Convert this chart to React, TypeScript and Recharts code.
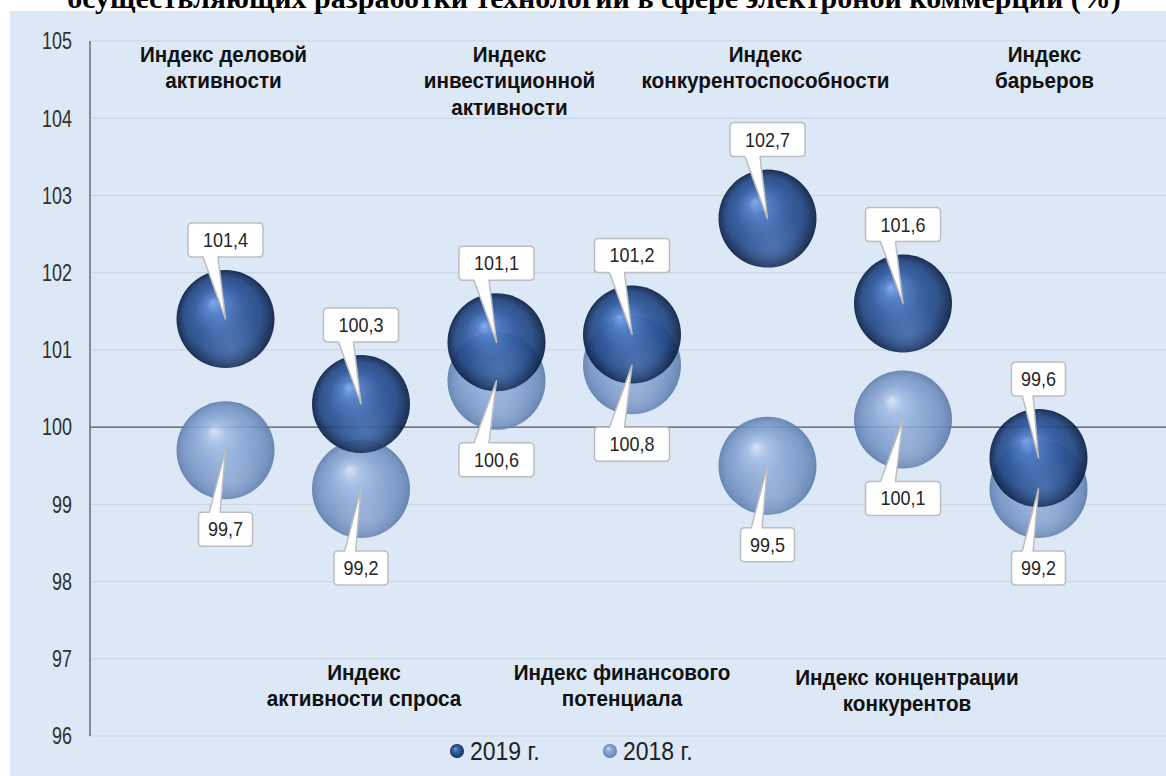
import React from 'react';
import { ScatterChart, Scatter, XAxis, YAxis, CartesianGrid, ReferenceLine, Legend } from 'recharts';

// Index labels, split into the lines they are printed on
const categoryLines: string[][] = [
  ['Индекс деловой', 'активности'],
  ['Индекс', 'активности спроса'],
  ['Индекс', 'инвестиционной', 'активности'],
  ['Индекс финансового', 'потенциала'],
  ['Индекс', 'конкурентоспособности'],
  ['Индекс концентрации', 'конкурентов'],
  ['Индекс', 'барьеров'],
];
const values2019 = [101.4, 100.3, 101.1, 101.2, 102.7, 101.6, 99.6];
const values2018 = [99.7, 99.2, 100.6, 100.8, 99.5, 100.1, 99.2];
const yTicks = [96, 97, 98, 99, 100, 101, 102, 103, 104, 105];
const xTicks = [1, 2, 3, 4, 5, 6, 7, 8];
const seriesNames = ['2019 г.', '2018 г.'];
const titleText = 'осуществляющих разработки технологии в сфере электроной коммерции (%)';

// small nudges for the printed index captions (px)
const CAPTION_SHIFT = [
  { dx: -2, dy: 0 },
  { dx: 3, dy: 0 },
  { dx: 13, dy: 0 },
  { dx: -10, dy: 0 },
  { dx: -2, dy: 0 },
  { dx: 4, dy: 5 },
  { dx: 6, dy: 0 },
];

// narrow look: regular sans squeezed horizontally
const SANS = "'Liberation Sans', Arial, sans-serif";
const SPHERE_R = 49;

const points2019 = values2019.map((v, i) => ({ x: i + 1, y: v }));
const points2018 = values2018.map((v, i) => ({ x: i + 1, y: v }));
const captionPoints = categoryLines.map((lines, i) => ({
  x: i + 1,
  y: i % 2 === 0 ? 105 : 96,
  lines,
  top: i % 2 === 0,
  idx: i,
}));

const fmt = (v: number) => v.toFixed(1).replace('.', ',');

function Sphere(props: any) {
  const { cx, cy, kind } = props;
  if (cx == null || cy == null) return null;
  const dark = kind === '2019';
  return (
    <g opacity={dark ? 0.93 : 0.88}>
      <circle cx={cx} cy={cy} r={SPHERE_R} fill={dark ? 'url(#sph2019)' : 'url(#sph2018)'} />
      <circle cx={cx} cy={cy} r={SPHERE_R} fill={dark ? 'url(#glow2019)' : 'url(#glow2018)'} />
    </g>
  );
}

function Callout(props: any) {
  const { cx, cy, payload, below } = props;
  if (cx == null || cy == null) return null;
  const label = fmt(payload.y);
  const w = 21 * label.length - 30;
  const h = 34;
  const gap = 62;
  const r = 4;
  const L = cx - w / 2;
  const R = cx + w / 2;
  const T = below ? cy + gap : cy - gap - h;
  const B = T + h;
  const x1 = cx - 0.3 * w;
  const x2 = cx - 0.1 * w;
  const d = below
    ? `M${L + r},${T} H${x1} L${cx},${cy} L${x2},${T} H${R - r} Q${R},${T} ${R},${T + r} V${B - r} Q${R},${B} ${R - r},${B} H${L + r} Q${L},${B} ${L},${B - r} V${T + r} Q${L},${T} ${L + r},${T} Z`
    : `M${L + r},${T} H${R - r} Q${R},${T} ${R},${T + r} V${B - r} Q${R},${B} ${R - r},${B} H${x2} L${cx},${cy} L${x1},${B} H${L + r} Q${L},${B} ${L},${B - r} V${T + r} Q${L},${T} ${L + r},${T} Z`;
  return (
    <g>
      <path d={d} fill="#ffffff" stroke="#bdbdbd" strokeWidth={1.5} strokeLinejoin="round" />
      <text
        transform={`translate(${cx},${T + h / 2 + 7}) scale(0.9,1)`}
        textAnchor="middle"
        fontFamily={SANS}
        fontSize={20}
        fill="#262626"
      >
        {label}
      </text>
    </g>
  );
}

function Caption(props: any) {
  const { cx, cy, payload } = props;
  if (cx == null || cy == null) return null;
  const shift = CAPTION_SHIFT[payload.idx];
  const lineH = 26.5;
  const x = cx + shift.dx;
  const first = payload.top ? cy + 21 : cy - 56;
  return (
    <g transform={`translate(${x},${first + shift.dy}) scale(0.94,1)`}>
      <text textAnchor="middle" fontFamily={SANS} fontWeight="bold" fontSize={22} fill="#111">
        {payload.lines.map((ln: string, k: number) => (
          <tspan key={k} x={0} y={k * lineH}>
            {ln}
          </tspan>
        ))}
      </text>
    </g>
  );
}

function YTick(props: any) {
  const { x, y, payload } = props;
  return (
    <text
      transform={`translate(${x},${y}) scale(0.78,1)`}
      textAnchor="end"
      dy="0.36em"
      fontFamily={SANS}
      fontSize={23}
      fill="#303030"
    >
      {payload.value}
    </text>
  );
}

function LegendContent() {
  const fills = ['url(#sph2019)', 'url(#sph2018)'];
  return (
    <div style={{ display: 'flex', alignItems: 'center', height: 30, whiteSpace: 'nowrap' }}>
      {seriesNames.map((n, i) => (
        <div key={n} style={{ display: 'flex', alignItems: 'center', marginRight: 56 }}>
          <svg width={16} height={16} style={{ display: 'block' }}>
            <circle cx={8} cy={8} r={7} fill={fills[i]} />
          </svg>
          <span
            style={{
              fontFamily: SANS,
              fontSize: 25,
              color: '#222',
              marginLeft: 5,
              lineHeight: '30px',
              display: 'inline-block',
              transform: 'scaleX(0.92)',
              transformOrigin: 'left center',
            }}
          >
            {n}
          </span>
        </div>
      ))}
    </div>
  );
}

export default function App() {
  return (
    <div style={{ position: 'absolute', left: 0, top: 0, width: 1166, height: 776, overflow: 'hidden', background: '#fff' }}>
      <svg width={0} height={0} style={{ position: 'absolute' }}>
        <defs>
          <radialGradient id="sph2019" cx="0.5" cy="0.5" r="0.5" fx="0.37" fy="0.33">
            <stop offset="0" stopColor="#7ba7eb" />
            <stop offset="0.18" stopColor="#4f7cc6" />
            <stop offset="0.5" stopColor="#30589d" />
            <stop offset="0.78" stopColor="#244884" />
            <stop offset="0.92" stopColor="#16315f" />
            <stop offset="1" stopColor="#0d2044" />
          </radialGradient>
          <radialGradient id="glow2019" cx="0.55" cy="0.8" r="0.35">
            <stop offset="0" stopColor="#7aa3e0" stopOpacity={0.35} />
            <stop offset="1" stopColor="#7aa3e0" stopOpacity={0} />
          </radialGradient>
          <radialGradient id="sph2018" cx="0.5" cy="0.5" r="0.5" fx="0.38" fy="0.3">
            <stop offset="0" stopColor="#d6e4f8" />
            <stop offset="0.2" stopColor="#a3bde4" />
            <stop offset="0.5" stopColor="#86a4d2" />
            <stop offset="0.8" stopColor="#7391c2" />
            <stop offset="0.93" stopColor="#6584b6" />
            <stop offset="1" stopColor="#5877a8" />
          </radialGradient>
          <radialGradient id="glow2018" cx="0.55" cy="0.8" r="0.35">
            <stop offset="0" stopColor="#c4d7f2" stopOpacity={0.3} />
            <stop offset="1" stopColor="#c4d7f2" stopOpacity={0} />
          </radialGradient>
        </defs>
      </svg>
      <div style={{ position: 'absolute', left: 10, top: 11, width: 1170, height: 770, background: '#dce8f6' }} />
      <svg width={1166} height={20} style={{ position: 'absolute', left: 0, top: 0 }}>
        <text
          x={594}
          y={8}
          textAnchor="middle"
          fontFamily="'Liberation Serif', 'Times New Roman', serif"
          fontWeight="bold"
          fontSize={30}
          fill="#000"
        >
          {titleText}
        </text>
      </svg>
      <div style={{ position: 'absolute', left: 0, top: 0 }}>
        <ScatterChart width={1190} height={776} margin={{ top: 41, right: 16, bottom: 39, left: 20 }}>
          <CartesianGrid stroke="#c8d3df" strokeWidth={1} />
          <XAxis
            type="number"
            dataKey="x"
            domain={[0, 8]}
            ticks={xTicks}
            tick={false}
            axisLine={false}
            tickLine={false}
            height={1}
          />
          <YAxis
            type="number"
            dataKey="y"
            domain={[96, 105]}
            ticks={yTicks}
            interval={0}
            width={70}
            tickLine={false}
            tickSize={6}
            tickMargin={12}
            axisLine={{ stroke: '#6e6e6e', strokeWidth: 1.5 }}
            tick={(p: any) => <YTick {...p} />}
          />
          <ReferenceLine y={100} stroke="#585858" strokeWidth={1.2} />
          <Scatter
            name={seriesNames[1]}
            data={points2018}
            isAnimationActive={false}
            shape={(p: any) => <Sphere {...p} kind="2018" />}
          />
          <Scatter
            name={seriesNames[0]}
            data={points2019}
            isAnimationActive={false}
            shape={(p: any) => <Sphere {...p} kind="2019" />}
          />
          <Scatter
            data={points2018}
            isAnimationActive={false}
            legendType="none"
            shape={(p: any) => <Callout {...p} below />}
          />
          <Scatter
            data={points2019}
            isAnimationActive={false}
            legendType="none"
            shape={(p: any) => <Callout {...p} below={false} />}
          />
          <Scatter
            data={captionPoints}
            isAnimationActive={false}
            legendType="none"
            shape={(p: any) => <Caption {...p} />}
          />
          <Legend
            layout="horizontal"
            verticalAlign="middle"
            align="center"
            wrapperStyle={{ position: 'absolute', top: 736, left: 449, width: 320, height: 30 }}
            content={() => <LegendContent />}
          />
        </ScatterChart>
      </div>
    </div>
  );
}
